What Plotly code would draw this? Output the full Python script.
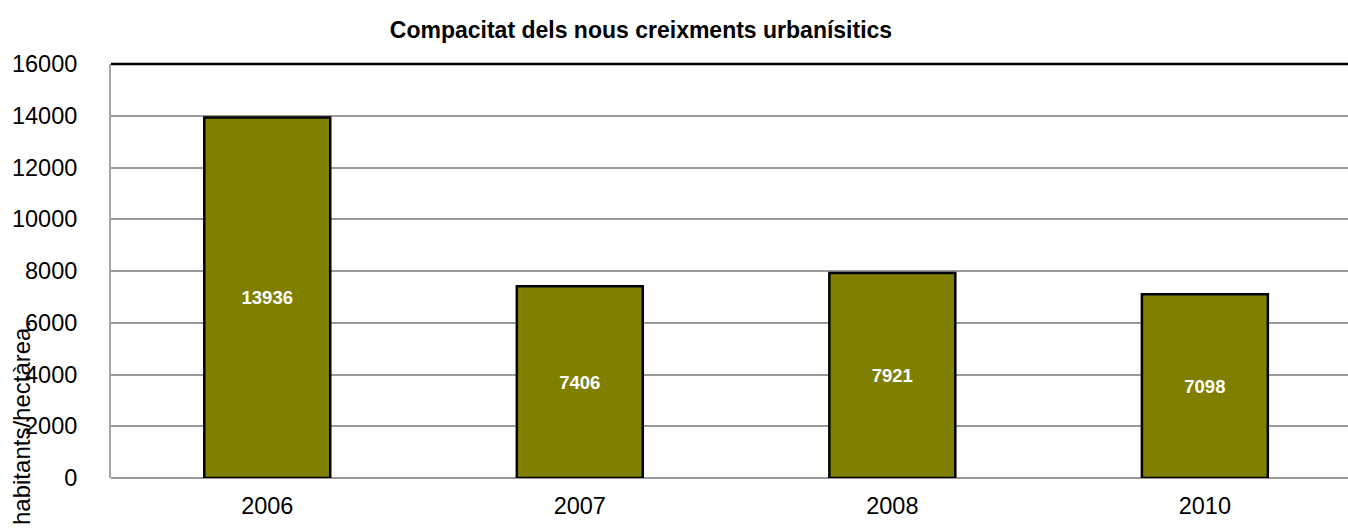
import plotly.graph_objects as go

categories = ["2006", "2007", "2008", "2010"]
values = [13936, 7406, 7921, 7098]
value_labels = ["13936", "7406", "7921", "7098"]
y_ticks = [0, 2000, 4000, 6000, 8000, 10000, 12000, 14000, 16000]

title_text = "Compacitat dels nous creixments urbanísitics"
y_title = "habitants/hectàrea."

FONT = "Liberation Sans"

fig = go.Figure()
fig.add_trace(go.Bar(
    x=categories,
    y=values,
    text=value_labels,
    textposition="inside",
    insidetextanchor="middle",
    textangle=0,
    textfont=dict(family=FONT, size=18.5, color="white", weight="bold"),
    marker=dict(color="#808000", line=dict(color="black", width=2.5)),
    width=0.403,
    cliponaxis=False,
))

fig.update_layout(
    width=1348,
    height=532,
    margin=dict(l=111, r=0, t=64, b=54),
    plot_bgcolor="white",
    paper_bgcolor="white",
    showlegend=False,
    title=dict(
        text=title_text,
        font=dict(family=FONT, size=23, color="black", weight="bold"),
        x=641 / 1348, xanchor="center",
        y=1 - 30 / 532, yanchor="middle",
    ),
    xaxis=dict(
        type="category",
        range=[-0.5, 3.458],
        showgrid=False,
        showline=False,
        ticks="",
        tickfont=dict(family=FONT, size=23.5, color="black"),
        ticklabelstandoff=11,
    ),
    yaxis=dict(
        range=[0, 16000],
        tickvals=y_ticks,
        ticktext=[str(v) for v in y_ticks],
        showgrid=True,
        gridcolor="#9a9a9a",
        gridwidth=2,
        showline=True,
        linecolor="#a6a6a6",
        linewidth=2,
        ticks="",
        tickfont=dict(family=FONT, size=23.5, color="black"),
        ticklabelstandoff=27,
        zeroline=True,
        zerolinecolor="#9a9a9a",
        zerolinewidth=2,
    ),
    shapes=[dict(
        type="line", xref="paper", yref="paper",
        x0=0, x1=1, y0=1, y1=1,
        line=dict(color="black", width=2.5),
    )],
    annotations=[dict(
        text=y_title,
        xref="paper", yref="paper",
        x=-90 / 1237, y=(478 - 423) / 414,
        xanchor="center", yanchor="middle",
        textangle=-90,
        showarrow=False,
        font=dict(family=FONT, size=24, color="black"),
    )],
)

fig.write_html("out.html")
